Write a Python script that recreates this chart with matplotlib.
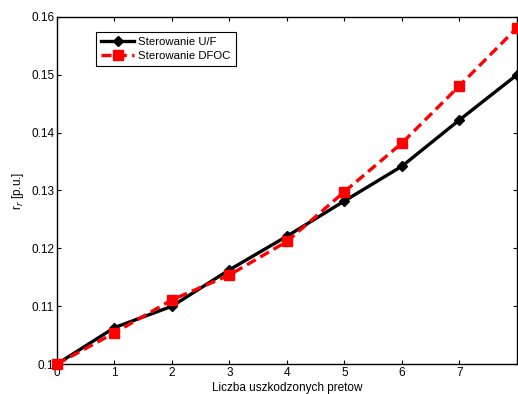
import matplotlib.pyplot as plt

# Dane
liczba_pretow = [0, 1, 2, 3, 4, 5, 6, 7, 8]
rr_uf = [0.100, 0.1063, 0.110, 0.1163, 0.1221, 0.1282, 0.1342, 0.1422, 0.150]
rr_dfoc = [0.100, 0.1054, 0.1111, 0.1154, 0.1212, 0.1298, 0.1382, 0.1481, 0.1581]
y_ticks = [0.10, 0.11, 0.12, 0.13, 0.14, 0.15, 0.16]
y_labels = ["0.1", "0.11", "0.12", "0.13", "0.14", "0.15", "0.16"]

plt.rcParams['font.family'] = ['Liberation Sans', 'DejaVu Sans']

fig = plt.figure(figsize=(5.18, 3.94), dpi=100)
ax = fig.add_axes([0.110, 0.076, 0.888, 0.881])

ax.plot(liczba_pretow, rr_uf, color='black', linewidth=2.4, marker='D',
        markersize=5, label='Sterowanie U/F', clip_on=False, zorder=3)
ax.plot(liczba_pretow, rr_dfoc, color='red', linewidth=2.4, linestyle='--',
        dashes=(3, 1.6), marker='s', markersize=7.5, label='Sterowanie DFOC',
        clip_on=False, zorder=4)

ax.set_xlim(0, 8)
ax.set_ylim(0.1, 0.16)
ax.set_xticks(range(8))
ax.set_yticks(y_ticks)
ax.set_yticklabels(y_labels)
ax.tick_params(direction='in', top=True, right=True, labelsize=8.5,
               length=3, width=0.8, pad=2)
for s in ax.spines.values():
    s.set_linewidth(1.0)

ax.set_xlabel('Liczba uszkodzonych pretow', fontsize=8.5, labelpad=2)
ax.set_ylabel('r$_r$ [p.u.]', fontsize=8.5, labelpad=4)

leg = ax.legend(loc='upper left', bbox_to_anchor=(0.085, 0.957), fontsize=8.2,
                fancybox=False, edgecolor='black', framealpha=1,
                borderaxespad=0, handlelength=2.9, borderpad=0.45,
                labelspacing=0.35, handletextpad=0.35)
leg.get_frame().set_linewidth(0.8)

fig.savefig('out.png', dpi=100)
